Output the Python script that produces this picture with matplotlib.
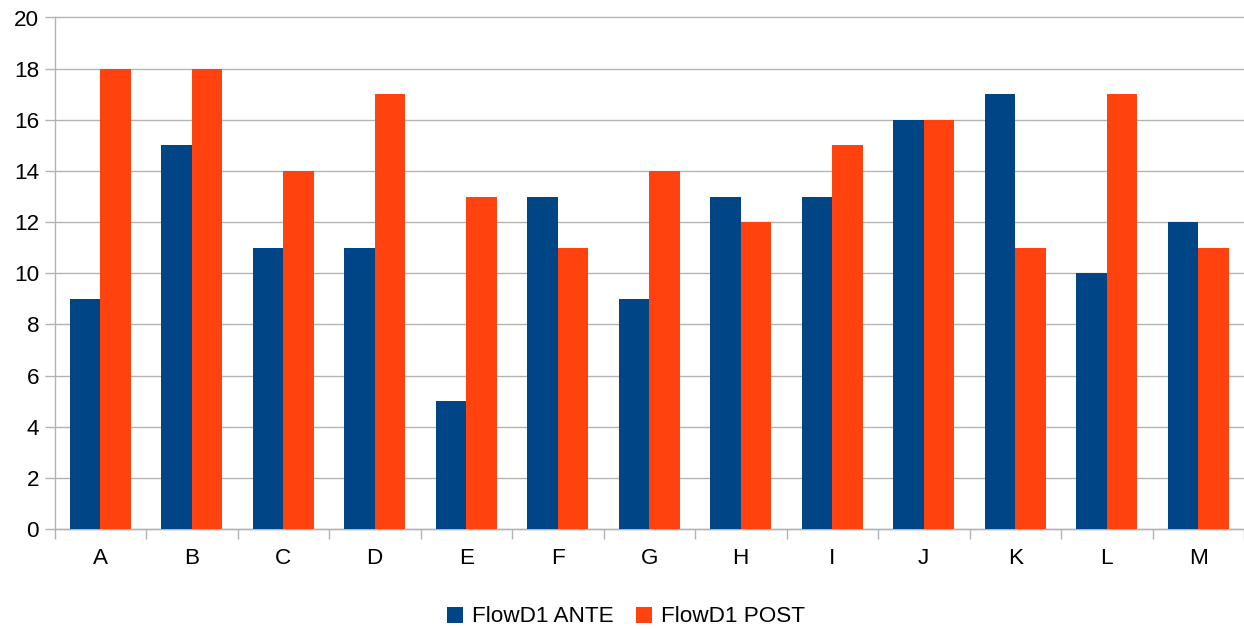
import matplotlib
matplotlib.use("Agg")
import matplotlib.pyplot as plt
import numpy as np
from matplotlib.patches import Patch

categories = ["A", "B", "C", "D", "E", "F", "G", "H", "I", "J", "K", "L", "M"]
ante = [9, 15, 11, 11, 5, 13, 9, 13, 13, 16, 17, 10, 12]
post = [18, 18, 14, 17, 13, 11, 14, 12, 15, 16, 11, 17, 11]
series_names = ["FlowD1 ANTE", "FlowD1 POST"]
colors = ["#004586", "#ff420e"]

plt.rcParams['font.family'] = ['Liberation Sans', 'DejaVu Sans']

fig = plt.figure(figsize=(12.44, 6.29), dpi=100)
ax = fig.add_axes([54.5/1244, 100/629, 1 - 54.5/1244, (529 - 17.5)/629])

x = np.arange(len(categories))
w = 1/3
ax.bar(x - w/2, ante, width=w, color=colors[0], zorder=3)
ax.bar(x + w/2, post, width=w, color=colors[1], zorder=3)

ax.set_xlim(-0.5, len(categories) - 0.5)
ax.set_ylim(0, 20)
ax.set_yticks(np.arange(0, 21, 2))
ax.set_xticks(x)
ax.set_xticklabels(categories)
ax.set_xticks(np.arange(-0.5, len(categories), 1), minor=True)

grid_c = "#b3b3b3"
ax.yaxis.grid(True, color=grid_c, linewidth=1, zorder=0)
for gl in ax.get_ygridlines():
    gl.set_clip_on(False)
for s in ["top", "right"]:
    ax.spines[s].set_visible(False)
for s in ["left", "bottom"]:
    ax.spines[s].set_color(grid_c)
    ax.spines[s].set_linewidth(1)

fs = 16.2
ax.tick_params(axis='y', length=7, color=grid_c, width=1, labelsize=fs, pad=4)
ax.tick_params(axis='x', which='major', length=0, labelsize=fs, pad=14)
ax.tick_params(axis='x', which='minor', length=7, color=grid_c, width=1)

handles = [Patch(facecolor=c, label=n) for c, n in zip(colors, series_names)]
fig.legend(handles=handles, loc='center', bbox_to_anchor=(626/1244, 1 - 617/629),
           ncol=2, frameon=False, fontsize=fs, handlelength=0.7, handleheight=0.7,
           handletextpad=0.4, columnspacing=1.0)

fig.savefig("out.png", dpi=100)
